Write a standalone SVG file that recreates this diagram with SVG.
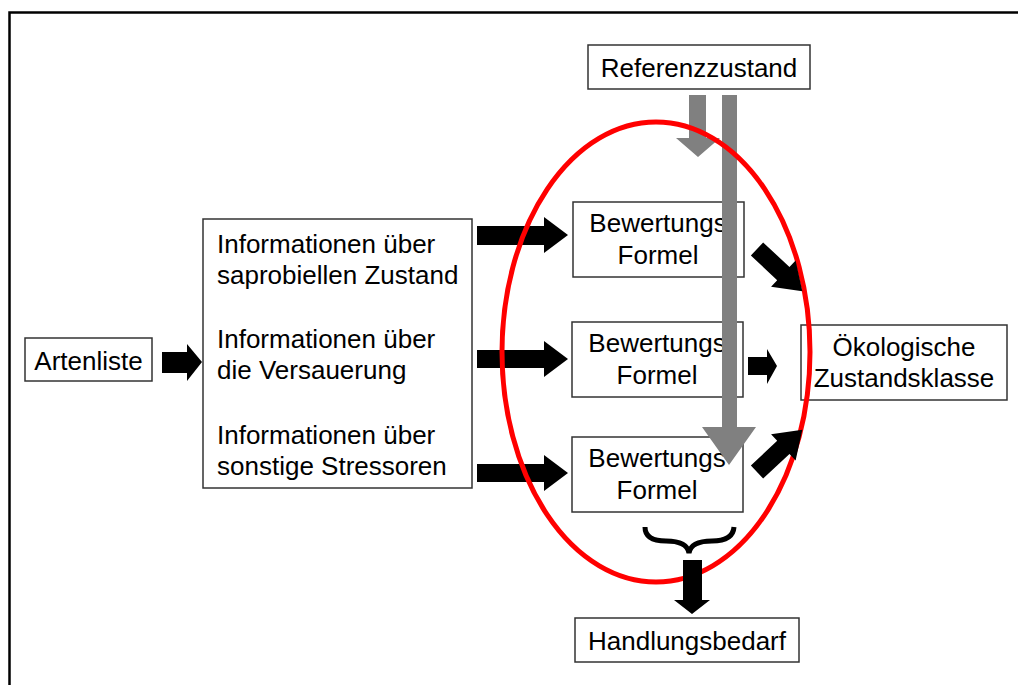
<svg xmlns="http://www.w3.org/2000/svg" width="1018" height="685" viewBox="0 0 1018 685">
<style>
.box{fill:#fff;stroke:#333;stroke-width:1.5}
.t{font-family:"Liberation Sans",Arial,sans-serif;font-size:26px;fill:#000}
.m{text-anchor:middle}
.blk{fill:#000}
.gry{fill:#808080}
</style>
<rect width="1018" height="685" fill="#fff"/>
<path d="M9.5,686 V12.5 H1019" fill="none" stroke="#000" stroke-width="2.5"/>

<g id="artenliste">
<rect class="box" x="25" y="338" width="127" height="43"/>
<text class="t m" x="88.5" y="370">Artenliste</text>
</g>
<g id="informationen">
<rect class="box" x="203" y="219" width="269" height="269"/>
<text class="t" x="217" y="253">Informationen über</text>
<text class="t" x="217" y="284">saprobiellen Zustand</text>
<text class="t" x="217" y="348">Informationen über</text>
<text class="t" x="217" y="379">die Versauerung</text>
<text class="t" x="217" y="444">Informationen über</text>
<text class="t" x="217" y="475">sonstige Stressoren</text>
</g>
<g id="referenzzustand">
<rect class="box" x="588" y="45" width="222" height="44"/>
<text class="t m" x="699" y="77">Referenzzustand</text>
</g>
<g id="formel1">
<rect class="box" x="573" y="202" width="171" height="75"/>
<text class="t m" x="658" y="232">Bewertungs</text>
<text class="t m" x="658" y="264">Formel</text>
</g>
<g id="formel2">
<rect class="box" x="572" y="322" width="171" height="75"/>
<text class="t m" x="657" y="352">Bewertungs</text>
<text class="t m" x="657" y="384">Formel</text>
</g>
<g id="formel3">
<rect class="box" x="572" y="437" width="171" height="75"/>
<text class="t m" x="657" y="467">Bewertungs</text>
<text class="t m" x="657" y="499">Formel</text>
</g>
<g id="zustandsklasse">
<rect class="box" x="801" y="325" width="206" height="75"/>
<text class="t m" x="904" y="356">Ökologische</text>
<text class="t m" x="904" y="387">Zustandsklasse</text>
</g>
<g id="handlungsbedarf">
<rect class="box" x="575" y="618" width="224" height="44"/>
<text class="t m" x="687" y="650">Handlungsbedarf</text>
</g>

<g id="connectors">
<polygon class="gry" points="689,95 706,95 706,138 720,138 698,157 676,138 689,138"/>
<polygon class="gry" points="722,95 737,95 737,427 756,427 729,465 702,427 722,427"/>
<polygon class="blk" points="162,352 187,352 187,344 202,362 187,381 187,373 162,373"/>
<polygon class="blk" points="477,226 544,226 544,217 568,235 544,253 544,245 477,245"/>
<polygon class="blk" points="477,350 544,350 544,341 568,359 544,377 544,368 477,368"/>
<polygon class="blk" points="477,464 544,464 544,455 568,473 544,491 544,482 477,482"/>
<polygon class="blk" points="748,357 767,357 767,349 777,366 767,384 767,375 748,375"/>
<ellipse cx="656" cy="352" rx="154" ry="230" fill="none" stroke="#f00" stroke-width="5"/>
<polygon class="blk" transform="translate(757,249) rotate(43)" points="0,-9 36,-9 36,-18 62,0 36,18 36,9 0,9"/>
<polygon class="blk" transform="translate(757,472) rotate(-43)" points="0,-9 36,-9 36,-18 62,0 36,18 36,9 0,9"/>
<path d="M645,527 Q645,541 666,541 Q687,541 689,553 Q691,541 712,541 Q733,541 734,527" fill="none" stroke="#000" stroke-width="5"/>
<polygon class="blk" points="683,560 702,560 702,600 710,600 692,614 674,600 683,600"/>
</g>
</svg>
